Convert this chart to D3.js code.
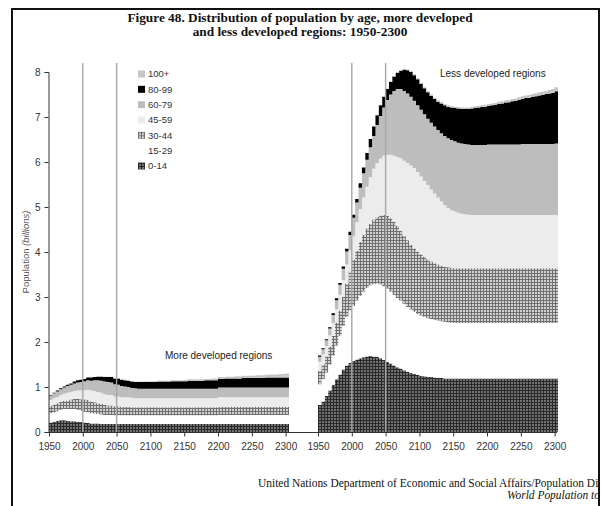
<!DOCTYPE html>
<html>
<head>
<meta charset="utf-8">
<script src="https://cdn.jsdelivr.net/npm/d3@7"></script>
<style>
  body { margin: 0; background: #fff; }
  svg { display: block; }
  text { font-family: "Liberation Sans", Arial, sans-serif; }
</style>
</head>
<body>
<svg id="chart" width="601" height="506"></svg>
<script>
// Years (5-year steps, 1950-2300)
const years = [
  1950,1955,1960,1965,1970,1975,1980,1985,1990,1995,
  2000,2005,2010,2015,2020,2025,2030,2035,2040,2045,
  2050,2055,2060,2065,2070,2075,2080,2085,2090,2095,
  2100,2105,2110,2115,2120,2125,2130,2135,2140,2145,
  2150,2155,2160,2165,2170,2175,2180,2185,2190,2195,
  2200,2205,2210,2215,2220,2225,2230,2235,2240,2245,
  2250,2255,2260,2265,2270,2275,2280,2285,2290,2295,
  2300
];

const ageGroups = ["0-14", "15-29", "30-44", "45-59", "60-79", "80-99", "100+"];

const tickYears = [1950, 2000, 2050, 2100, 2150, 2200, 2250, 2300];
const yTicks = [0, 1, 2, 3, 4, 5, 6, 7, 8];
const markerYears = [2000, 2050];

// More developed regions, population by age group (billions)
const more_0_14 = [
  0.21,0.23,0.25,0.26,0.26,0.25,0.24,0.24,0.23,0.22,
  0.21,0.20,0.19,0.19,0.19,0.18,0.18,0.18,0.18,0.18,
  0.18,0.18,0.18,0.18,0.18,0.18,0.18,0.18,0.18,0.18,
  0.18,0.18,0.18,0.18,0.18,0.18,0.18,0.18,0.18,0.18,
  0.18,0.18,0.18,0.18,0.18,0.18,0.18,0.18,0.18,0.18,
  0.18,0.18,0.18,0.18,0.18,0.18,0.18,0.18,0.18,0.18,
  0.18,0.18,0.18,0.18,0.18,0.18,0.18,0.18,0.18,0.18,
  0.18
];
const more_15_29 = [
  0.21,0.21,0.21,0.23,0.25,0.26,0.27,0.27,0.26,0.25,
  0.24,0.24,0.23,0.22,0.21,0.21,0.20,0.20,0.20,0.19,
  0.19,0.19,0.19,0.19,0.19,0.19,0.19,0.19,0.19,0.19,
  0.19,0.19,0.19,0.19,0.19,0.19,0.19,0.19,0.19,0.19,
  0.19,0.19,0.19,0.19,0.19,0.19,0.19,0.19,0.19,0.19,
  0.20,0.20,0.20,0.20,0.20,0.20,0.20,0.20,0.20,0.20,
  0.20,0.20,0.20,0.20,0.20,0.20,0.20,0.20,0.20,0.20,
  0.20
];
const more_30_44 = [
  0.16,0.17,0.18,0.18,0.18,0.19,0.21,0.23,0.25,0.26,
  0.27,0.27,0.26,0.25,0.24,0.23,0.22,0.21,0.21,0.20,
  0.20,0.19,0.19,0.19,0.18,0.18,0.18,0.18,0.18,0.18,
  0.18,0.18,0.18,0.18,0.18,0.18,0.18,0.18,0.18,0.18,
  0.18,0.18,0.18,0.18,0.18,0.18,0.18,0.18,0.18,0.18,
  0.18,0.18,0.18,0.18,0.18,0.18,0.18,0.18,0.18,0.18,
  0.18,0.18,0.18,0.18,0.18,0.18,0.18,0.18,0.18,0.18,
  0.18
];
const more_45_59 = [
  0.13,0.14,0.14,0.15,0.16,0.17,0.17,0.17,0.18,0.19,
  0.21,0.23,0.24,0.25,0.25,0.25,0.24,0.23,0.23,0.22,
  0.22,0.21,0.21,0.21,0.21,0.20,0.20,0.20,0.20,0.20,
  0.20,0.20,0.20,0.20,0.20,0.20,0.20,0.20,0.20,0.20,
  0.20,0.20,0.20,0.20,0.20,0.20,0.20,0.20,0.20,0.20,
  0.21,0.21,0.21,0.21,0.21,0.21,0.21,0.21,0.21,0.21,
  0.21,0.21,0.21,0.21,0.21,0.21,0.21,0.21,0.21,0.21,
  0.21
];
const more_60_79 = [
  0.10,0.11,0.12,0.13,0.14,0.15,0.16,0.17,0.18,0.19,
  0.20,0.21,0.22,0.24,0.26,0.27,0.28,0.29,0.28,0.27,
  0.26,0.25,0.24,0.23,0.22,0.22,0.21,0.21,0.21,0.21,
  0.21,0.21,0.21,0.21,0.21,0.21,0.21,0.21,0.21,0.21,
  0.21,0.21,0.21,0.21,0.21,0.21,0.21,0.21,0.21,0.21,
  0.22,0.22,0.22,0.22,0.22,0.22,0.22,0.22,0.22,0.22,
  0.22,0.22,0.22,0.22,0.22,0.22,0.22,0.22,0.22,0.22,
  0.22
];
const more_80_99 = [
  0.01,0.01,0.02,0.02,0.02,0.03,0.03,0.04,0.05,0.05,
  0.05,0.06,0.07,0.07,0.08,0.09,0.10,0.11,0.12,0.13,
  0.14,0.14,0.14,0.14,0.14,0.14,0.15,0.15,0.15,0.15,
  0.15,0.15,0.16,0.16,0.16,0.16,0.17,0.17,0.17,0.17,
  0.17,0.18,0.18,0.18,0.18,0.18,0.19,0.19,0.19,0.19,
  0.19,0.19,0.20,0.20,0.20,0.20,0.20,0.21,0.21,0.21,
  0.21,0.21,0.21,0.21,0.22,0.22,0.22,0.22,0.22,0.22,
  0.22
];
const more_100 = [
  0.00,0.00,0.00,0.00,0.00,0.00,0.00,0.00,0.00,0.00,
  0.00,0.00,0.00,0.00,0.00,0.00,0.01,0.01,0.01,0.01,
  0.01,0.01,0.01,0.01,0.01,0.01,0.01,0.01,0.01,0.01,
  0.02,0.02,0.02,0.02,0.02,0.02,0.02,0.02,0.02,0.02,
  0.03,0.03,0.03,0.03,0.03,0.03,0.03,0.03,0.04,0.04,
  0.04,0.04,0.04,0.04,0.04,0.05,0.05,0.05,0.05,0.05,
  0.05,0.06,0.06,0.06,0.06,0.07,0.07,0.07,0.08,0.08,
  0.09
];

// Less developed regions, population by age group (billions)
const less_0_14 = [
  0.60,0.68,0.80,0.92,1.05,1.17,1.28,1.39,1.48,1.54,
  1.58,1.61,1.64,1.66,1.68,1.69,1.68,1.67,1.64,1.60,
  1.56,1.52,1.48,1.44,1.41,1.37,1.34,1.31,1.29,1.27,
  1.25,1.24,1.23,1.22,1.21,1.20,1.20,1.19,1.19,1.19,
  1.19,1.19,1.19,1.19,1.19,1.19,1.19,1.19,1.19,1.19,
  1.19,1.19,1.19,1.19,1.19,1.19,1.19,1.19,1.19,1.19,
  1.19,1.19,1.19,1.19,1.19,1.19,1.19,1.19,1.19,1.19,
  1.19
];
const less_15_29 = [
  0.46,0.50,0.52,0.58,0.65,0.75,0.86,0.97,1.08,1.16,
  1.22,1.31,1.39,1.46,1.52,1.57,1.61,1.63,1.64,1.64,
  1.63,1.60,1.57,1.54,1.51,1.48,1.44,1.41,1.38,1.35,
  1.34,1.32,1.30,1.29,1.28,1.27,1.26,1.26,1.25,1.24,
  1.23,1.23,1.23,1.23,1.23,1.23,1.23,1.23,1.23,1.23,
  1.23,1.23,1.23,1.23,1.23,1.23,1.23,1.23,1.23,1.23,
  1.23,1.23,1.23,1.23,1.23,1.23,1.23,1.23,1.23,1.23,
  1.23
];
const less_30_44 = [
  0.30,0.32,0.36,0.40,0.44,0.50,0.56,0.64,0.74,0.87,
  1.02,1.11,1.19,1.26,1.32,1.37,1.43,1.48,1.53,1.58,
  1.61,1.63,1.63,1.60,1.55,1.51,1.48,1.44,1.41,1.39,
  1.36,1.33,1.31,1.28,1.26,1.25,1.23,1.22,1.22,1.22,
  1.22,1.22,1.22,1.22,1.22,1.22,1.22,1.22,1.22,1.22,
  1.22,1.22,1.22,1.22,1.22,1.22,1.22,1.22,1.22,1.22,
  1.22,1.22,1.22,1.22,1.22,1.22,1.22,1.22,1.22,1.22,
  1.22
];
const less_45_59 = [
  0.20,0.22,0.23,0.25,0.28,0.31,0.35,0.38,0.42,0.47,
  0.53,0.63,0.73,0.83,0.93,1.03,1.13,1.20,1.27,1.32,
  1.36,1.41,1.46,1.53,1.61,1.67,1.72,1.76,1.78,1.77,
  1.73,1.69,1.65,1.60,1.55,1.49,1.43,1.37,1.32,1.28,
  1.26,1.23,1.21,1.20,1.19,1.18,1.18,1.18,1.18,1.18,
  1.18,1.18,1.18,1.18,1.18,1.18,1.18,1.18,1.18,1.18,
  1.18,1.18,1.18,1.18,1.18,1.18,1.18,1.18,1.18,1.18,
  1.18
];
const less_60_79 = [
  0.11,0.12,0.13,0.15,0.18,0.20,0.22,0.25,0.29,0.34,
  0.41,0.44,0.48,0.54,0.60,0.67,0.73,0.84,0.94,1.07,
  1.22,1.34,1.44,1.51,1.54,1.55,1.54,1.53,1.50,1.48,
  1.48,1.48,1.47,1.48,1.49,1.50,1.52,1.54,1.55,1.56,
  1.56,1.56,1.56,1.56,1.56,1.56,1.56,1.56,1.56,1.56,
  1.57,1.57,1.57,1.57,1.57,1.57,1.57,1.57,1.57,1.57,
  1.58,1.58,1.58,1.58,1.58,1.58,1.58,1.58,1.58,1.58,
  1.59
];
const less_80_99 = [
  0.03,0.02,0.02,0.03,0.04,0.04,0.04,0.05,0.06,0.07,
  0.07,0.08,0.10,0.13,0.15,0.18,0.21,0.22,0.24,0.24,
  0.24,0.28,0.32,0.36,0.41,0.47,0.52,0.55,0.57,0.58,
  0.58,0.58,0.59,0.60,0.61,0.63,0.66,0.68,0.70,0.72,
  0.74,0.76,0.77,0.78,0.79,0.81,0.82,0.83,0.84,0.85,
  0.86,0.87,0.88,0.90,0.91,0.93,0.94,0.96,0.97,0.99,
  1.00,1.02,1.03,1.05,1.06,1.08,1.09,1.11,1.12,1.14,
  1.16
];
const less_100 = [
  0.00,0.00,0.00,0.00,0.00,0.00,0.00,0.00,0.00,0.00,
  0.00,0.00,0.00,0.00,0.00,0.00,0.00,0.01,0.01,0.01,
  0.01,0.01,0.01,0.02,0.02,0.02,0.02,0.02,0.02,0.02,
  0.02,0.02,0.02,0.03,0.03,0.03,0.03,0.03,0.03,0.03,
  0.03,0.03,0.03,0.03,0.03,0.04,0.04,0.04,0.04,0.04,
  0.04,0.04,0.04,0.05,0.05,0.05,0.05,0.05,0.05,0.06,
  0.06,0.06,0.06,0.06,0.07,0.07,0.07,0.07,0.08,0.08,
  0.09
];

const moreSeries = [more_0_14, more_15_29, more_30_44, more_45_59, more_60_79, more_80_99, more_100];
const lessSeries = [less_0_14, less_15_29, less_30_44, less_45_59, less_60_79, less_80_99, less_100];

// ---------------------------------------------------------------
const svg = d3.select("#chart");

// Fill for each age group (two dotted textures + flat greys)
const defs = svg.append("defs");
function dotPattern(id, bg, grid) {
  const p = defs.append("pattern")
    .attr("id", id).attr("patternUnits", "userSpaceOnUse")
    .attr("width", 3).attr("height", 3);
  p.append("rect").attr("width", 3).attr("height", 3).attr("fill", bg);
  p.append("rect").attr("width", 3).attr("height", 1).attr("fill", grid);
  p.append("rect").attr("width", 1).attr("height", 3).attr("fill", grid);
}
dotPattern("dotDark", "#707070", "#2a2a2a");
dotPattern("dotLight", "#d0d0d0", "#707070");

// text running past the right edge of the frame is cut there
defs.append("clipPath").attr("id", "frameClip")
  .append("rect").attr("x", 0).attr("y", 0).attr("width", 598).attr("height", 506);

const fills = {
  "0-14": "url(#dotDark)",
  "15-29": "#ffffff",
  "30-44": "url(#dotLight)",
  "45-59": "#ececec",
  "60-79": "#bdbdbd",
  "80-99": "#000000",
  "100+": "#c6c6c6"
};

const y = d3.scaleLinear().domain([0, 8]).range([432, 72]);
const xMore = d3.scaleLinear().domain([1950, 2305]).range([49, 289]);
const xLess = d3.scaleLinear().domain([1950, 2305]).range([318, 558]);

function rowsFor(series) {
  const rows = years.map((yr, i) => {
    const r = { year: yr };
    ageGroups.forEach((g, k) => { r[g] = series[k][i]; });
    return r;
  });
  // closing edge of the last 5-year column
  const last = Object.assign({}, rows[rows.length - 1]);
  last.year = years[years.length - 1] + 5;
  rows.push(last);
  return rows;
}

const stack = d3.stack().keys(ageGroups);

function drawPanel(series, x) {
  const layers = stack(rowsFor(series));
  const area = d3.area()
    .curve(d3.curveStepAfter)
    .x(d => x(d.data.year))
    .y0(d => y(d[0]))
    .y1(d => y(d[1]));
  svg.append("g")
    .selectAll("path")
    .data(layers)
    .join("path")
    .attr("d", area)
    .attr("fill", d => fills[d.key]);

  // reference lines at 2000 and 2050
  svg.append("g")
    .selectAll("line")
    .data(markerYears)
    .join("line")
    .attr("x1", d => x(d)).attr("x2", d => x(d))
    .attr("y1", 63).attr("y2", 432)
    .attr("stroke", "#a6a6a6")
    .attr("stroke-width", 1.4);

  const ax = svg.append("g")
    .attr("transform", "translate(0,432.5)")
    .call(d3.axisBottom(x).tickValues(tickYears).tickFormat(d3.format("d")).tickSize(4).tickPadding(6));
  ax.select(".domain").remove();
  ax.selectAll(".tick line").attr("stroke", "#333");
  ax.selectAll("text").attr("font-size", 10).attr("fill", "#333")
    .attr("font-family", "Liberation Sans, Arial, sans-serif");
}

drawPanel(moreSeries, xMore);
drawPanel(lessSeries, xLess);

// x axis baseline across both panels
svg.append("line")
  .attr("x1", 48).attr("x2", 557)
  .attr("y1", 432.5).attr("y2", 432.5)
  .attr("stroke", "#333");

// y axis
const yAx = svg.append("g")
  .attr("transform", "translate(48.5,0)")
  .call(d3.axisLeft(y).tickValues(yTicks).tickSize(4).tickPadding(4));
yAx.select(".domain").attr("stroke", "#333");
yAx.selectAll(".tick line").attr("stroke", "#333");
yAx.selectAll("text").attr("font-size", 10).attr("fill", "#333")
  .attr("font-family", "Liberation Sans, Arial, sans-serif");

// y axis title
const yTitle = svg.append("text")
  .attr("transform", "translate(29,252) rotate(-90)")
  .attr("text-anchor", "middle")
  .attr("font-size", 9.5)
  .attr("fill", "#555");
yTitle.append("tspan").text("Population ");
yTitle.append("tspan").attr("font-style", "italic").text("(billions)");

// legend
const legendOrder = ["100+", "80-99", "60-79", "45-59", "30-44", "15-29", "0-14"];
const legend = svg.append("g")
  .selectAll("g")
  .data(legendOrder)
  .join("g")
  .attr("transform", (d, i) => `translate(138,${74 + i * 15.33})`);
legend.append("rect")
  .attr("x", 0).attr("y", -3.5).attr("width", 7).attr("height", 7)
  .attr("fill", d => fills[d]);
legend.append("text")
  .attr("x", 10).attr("dy", "0.35em")
  .attr("font-size", 9.5).attr("fill", "#333")
  .text(d => d);

// panel labels
svg.append("text").attr("x", 165).attr("y", 359)
  .attr("font-size", 10).attr("fill", "#222").text("More developed regions");
svg.append("text").attr("x", 440).attr("y", 77)
  .attr("font-size", 10).attr("fill", "#222").text("Less developed regions");

// title
const title = svg.append("g")
  .attr("font-weight", "bold")
  .attr("font-size", 13.3)
  .attr("text-anchor", "middle")
  .attr("fill", "#111");
title.append("text").attr("x", 300).attr("y", 22)
  .style("font-family", "Liberation Serif, Times New Roman, serif")
  .text("Figure 48. Distribution of population by age, more developed");
title.append("text").attr("x", 300).attr("y", 36)
  .style("font-family", "Liberation Serif, Times New Roman, serif")
  .text("and less developed regions: 1950-2300");

// source note
const note = svg.append("g").attr("clip-path", "url(#frameClip)");
note.append("text").attr("x", 258).attr("y", 487)
  .style("font-family", "Liberation Serif, Times New Roman, serif")
  .attr("font-size", 11.45).attr("fill", "#111")
  .text("United Nations Department of Economic and Social Affairs/Population Division");
note.append("text").attr("x", 507).attr("y", 499)
  .style("font-family", "Liberation Serif, Times New Roman, serif")
  .attr("font-style", "italic")
  .attr("font-size", 11.45).attr("fill", "#111")
  .text("World Population to 2300");

// frame
svg.append("path")
  .attr("d", "M12,506V9H599V506")
  .attr("fill", "none")
  .attr("stroke", "#111")
  .attr("stroke-width", 2);
</script>
</body>
</html>
